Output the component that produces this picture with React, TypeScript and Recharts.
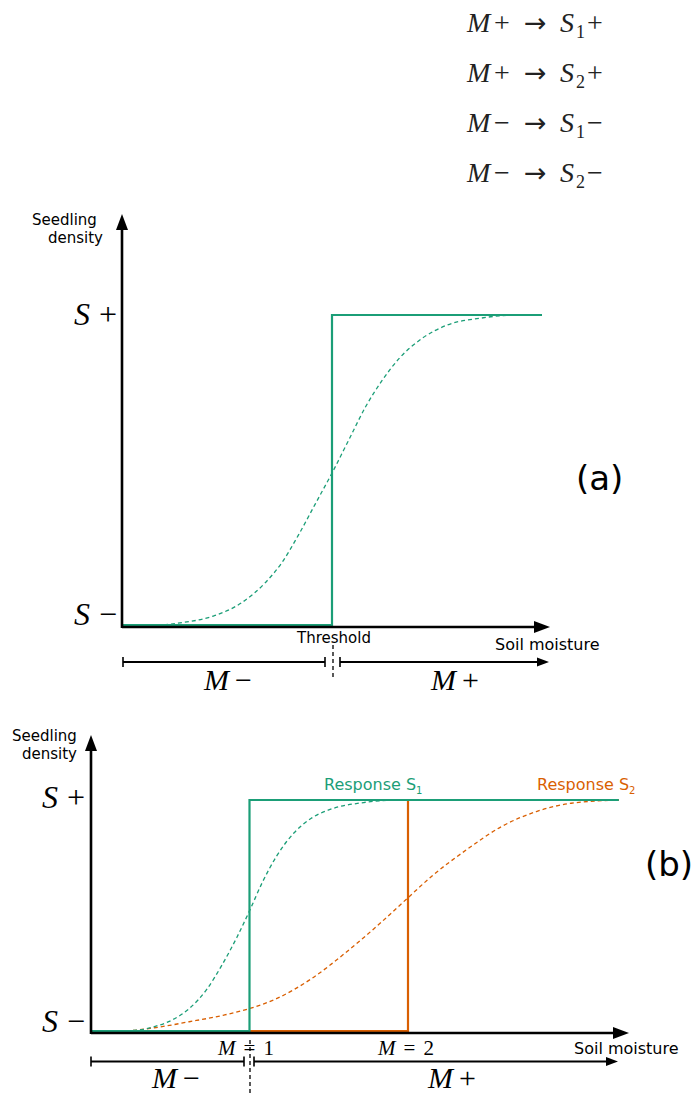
import React from 'react';
import { LineChart, Line, XAxis, YAxis, ReferenceLine, ReferenceDot } from 'recharts';

// ─── Colours / fonts ──────────────────────────────────────────────────────────

const W = 693;
const GREEN = '#1b9e77';
const ORANGE = '#d95f02';
const INK = '#000000';
const SANS = '"DejaVu Sans", Verdana, sans-serif';
const SERIF = '"Liberation Serif", "Times New Roman", serif';

// ─── Rules shown above the panels ─────────────────────────────────────────────

const RULE_M_SIGN = ['+', '+', '−', '−'];
const RULE_SPECIES = ['1', '2', '1', '2'];
const RULE_S_SIGN = ['+', '+', '−', '−'];

// ─── Panel (a): one threshold (M = soil moisture, S = seedling density) ───────

const A_STEP_M = [0, 1, 2];
const A_STEP_S = [0, 1, 1];
const A_CURVE_M = [0, 0.15, 0.29, 0.44, 0.57, 0.68, 0.76, 0.84, 0.92, 1.0, 1.08, 1.16, 1.24, 1.32, 1.43, 1.55, 1.71, 1.87, 2.0];
const A_CURVE_S = [0, 0, 0.008, 0.03, 0.072, 0.135, 0.2, 0.29, 0.39, 0.49, 0.597, 0.704, 0.79, 0.86, 0.925, 0.968, 0.99, 1.0, 1.0];

// ─── Panel (b): two species, two thresholds ───────────────────────────────────

const B_S1_STEP_M = [0, 1, 3.33];
const B_S1_STEP_S = [0, 1, 1];
const B_S2_STEP_M = [0, 2, 3.33];
const B_S2_STEP_S = [0, 1, 1];
const B_S1_CURVE_M = [0, 0.15, 0.3, 0.4, 0.51, 0.62, 0.73, 0.83, 0.92, 1.0, 1.08, 1.17, 1.28, 1.39, 1.5, 1.72, 1.93, 2.2, 3.33];
const B_S1_CURVE_S = [0, 0, 0.004, 0.019, 0.047, 0.097, 0.18, 0.29, 0.405, 0.52, 0.642, 0.756, 0.857, 0.921, 0.957, 0.989, 1.0, 1.0, 1.0];
const B_S2_CURVE_M = [0, 0.19, 0.4, 0.62, 0.84, 1.0, 1.17, 1.39, 1.61, 1.83, 2.0, 2.15, 2.37, 2.59, 2.81, 3.03, 3.33];
const B_S2_CURVE_S = [0, 0, 0.014, 0.04, 0.069, 0.097, 0.14, 0.226, 0.341, 0.47, 0.577, 0.67, 0.785, 0.885, 0.95, 0.986, 1.0];

const LEVEL_SIGNS = ['+', '−']; // S+ / S−
const B_TICKS = ['1', '2'];     // M = 1, M = 2

// ─── Geometry: how data units map onto the page ───────────────────────────────

type Geo = { top: number; height: number; x0: number; kx: number; y0: number; ky: number };
const GEO_A: Geo = { top: 200, height: 500, x0: 122, kx: 210, y0: 625, ky: 310 };
const GEO_B: Geo = { top: 700, height: 395, x0: 91, kx: 158.5, y0: 1031, ky: 231 };

const toData = (g: Geo, px: number, py: number) => ({ x: (px - g.x0) / g.kx, y: (g.y0 - py) / g.ky });
const zip = (m: number[], s: number[]) => m.map((v, i) => ({ m: v, s: s[i] }));

// ─── Shapes ───────────────────────────────────────────────────────────────────

function arrowShape(head: number, half: number, width: number, startTick = 0) {
  return (p: any) => {
    const { x1, y1, x2, y2 } = p;
    const len = Math.hypot(x2 - x1, y2 - y1) || 1;
    const ux = (x2 - x1) / len;
    const uy = (y2 - y1) / len;
    const bx = x2 - ux * head;
    const by = y2 - uy * head;
    return (
      <g>
        <line x1={x1} y1={y1} x2={bx + ux} y2={by + uy} stroke={INK} strokeWidth={width} />
        <polygon
          points={`${x2},${y2} ${bx - uy * half},${by + ux * half} ${bx + uy * half},${by - ux * half}`}
          fill={INK}
        />
        {startTick > 0 && (
          <line x1={x1 - uy * startTick} y1={y1 + ux * startTick} x2={x1 + uy * startTick} y2={y1 - ux * startTick} stroke={INK} strokeWidth={1.6} />
        )}
      </g>
    );
  };
}

function barShape(tick: number, width: number) {
  return (p: any) => {
    const { x1, y1, x2, y2 } = p;
    return (
      <g stroke={INK}>
        <line x1={x1} y1={y1} x2={x2} y2={y2} strokeWidth={width} />
        <line x1={x1} y1={y1 - tick} x2={x1} y2={y1 + tick} strokeWidth={1.6} />
        <line x1={x2} y1={y2 - tick} x2={x2} y2={y2 + tick} strokeWidth={1.6} />
      </g>
    );
  };
}

function seg(g: Geo, key: string, a: [number, number], b: [number, number], extra: any) {
  return <ReferenceLine key={key} segment={[toData(g, a[0], a[1]), toData(g, b[0], b[1])]} ifOverflow="visible" {...extra} />;
}

function note(g: Geo, key: string, px: number, py: number, content: React.ReactNode, style: any) {
  const p = toData(g, px, py);
  return (
    <ReferenceDot
      key={key}
      x={p.x}
      y={p.y}
      r={0}
      ifOverflow="visible"
      shape={(d: any) => (
        <text x={d.cx} y={d.cy} {...style}>
          {content}
        </text>
      )}
    />
  );
}

const mathLabel = (letter: string, sign: string, gap: number) => [
  <tspan key="l" fontStyle="italic">{letter}</tspan>,
  <tspan key="s" dx={gap}>{sign}</tspan>,
];

const sansStyle = (size: number, extra: any = {}) => ({ fontFamily: SANS, fontSize: size, fill: INK, ...extra });
const serifStyle = (size: number, extra: any = {}) => ({ fontFamily: SERIF, fontSize: size, fill: INK, ...extra });

// ─── Panel frame ──────────────────────────────────────────────────────────────

function Panel({ geo, children }: { geo: Geo; children: React.ReactNode }) {
  const xDomain = [-geo.x0 / geo.kx, (W - geo.x0) / geo.kx];
  const yDomain = [(geo.y0 - geo.top - geo.height) / geo.ky, (geo.y0 - geo.top) / geo.ky];
  return (
    <div style={{ position: 'absolute', left: 0, top: geo.top }}>
      <LineChart width={W} height={geo.height} margin={{ top: 0, right: 0, bottom: 0, left: 0 }}>
        <XAxis type="number" dataKey="m" domain={xDomain} hide allowDataOverflow />
        <YAxis type="number" domain={yDomain} hide allowDataOverflow />
        {children}
      </LineChart>
    </div>
  );
}

const dashed = (data: { m: number; s: number }[], color: string, key: string) => (
  <Line key={key} data={data} dataKey="s" type="monotone" stroke={color} strokeWidth={1.3} strokeDasharray="4 3" dot={false} activeDot={false} isAnimationActive={false} />
);
const step = (data: { m: number; s: number }[], color: string, key: string) => (
  <Line key={key} data={data} dataKey="s" type="stepAfter" stroke={color} strokeWidth={2.2} dot={false} activeDot={false} isAnimationActive={false} />
);

// ─── Main Component ───────────────────────────────────────────────────────────

export default function App() {
  const g = GEO_A;
  const h = GEO_B;
  return (
    <div style={{ position: 'absolute', left: 0, top: 0, width: W, height: 1095, background: '#fff', overflow: 'hidden' }}>
      <svg width={W} height={200} style={{ position: 'absolute', left: 0, top: 0 }}>
        {RULE_M_SIGN.map((ms, i) => (
          <text key={i} y={32 + 50 * i} fontFamily={SERIF} fontSize={28} fill="#222">
            <tspan x={467} fontStyle="italic">M</tspan>
            <tspan x={494}>{ms}</tspan>
            <tspan x={524} fontFamily={SANS} fontSize={27}>→</tspan>
            <tspan x={560} fontStyle="italic">S</tspan>
            <tspan x={576} dy={6} fontSize={18}>{RULE_SPECIES[i]}</tspan>
            <tspan x={587} dy={-6}>{RULE_S_SIGN[i]}</tspan>
          </text>
        ))}
      </svg>

      {/* (a) */}
      <Panel geo={g}>
        {dashed(zip(A_CURVE_M, A_CURVE_S), GREEN, 'ac')}
        {step(zip(A_STEP_M, A_STEP_S), GREEN, 'as')}
        {seg(g, 'ax', [122, 627], [550, 627], { shape: arrowShape(16, 6, 2.6) })}
        {seg(g, 'ay', [122, 628], [122, 214], { shape: arrowShape(16, 6, 2.6) })}
        {seg(g, 'r1', [123, 662], [325, 662], { shape: barShape(5, 2) })}
        {seg(g, 'r2', [340, 662], [549, 662], { shape: arrowShape(12, 4.5, 2, 5) })}
        {seg(g, 'sep', [333, 645], [333, 680], { stroke: INK, strokeWidth: 1.3, strokeDasharray: '4 3' })}
        {note(g, 't1', 32, 225, 'Seedling', sansStyle(15))}
        {note(g, 't2', 48, 243, 'density', sansStyle(15))}
        {LEVEL_SIGNS.map((sg, i) => note(g, `lv${i}`, 117, i === 0 ? 325 : 625, mathLabel('S', sg, 9), serifStyle(32, { textAnchor: 'end' })))}
        {note(g, 'pa', 576, 490, '(a)', sansStyle(34))}
        {note(g, 'th', 334, 643, 'Threshold', sansStyle(15, { textAnchor: 'middle' }))}
        {note(g, 'sm', 495, 650, 'Soil moisture', sansStyle(16))}
        {note(g, 'mm', 228, 690, mathLabel('M', '−', 6), serifStyle(30, { textAnchor: 'middle' }))}
        {note(g, 'mp', 455, 690, mathLabel('M', '+', 6), serifStyle(30, { textAnchor: 'middle' }))}
      </Panel>

      {/* (b) */}
      <Panel geo={h}>
        {dashed(zip(B_S2_CURVE_M, B_S2_CURVE_S), ORANGE, 'c2')}
        {dashed(zip(B_S1_CURVE_M, B_S1_CURVE_S), GREEN, 'c1')}
        {step(zip(B_S2_STEP_M, B_S2_STEP_S), ORANGE, 's2')}
        {step(zip(B_S1_STEP_M, B_S1_STEP_S), GREEN, 's1')}
        {seg(h, 'ax', [91, 1033], [629, 1033], { shape: arrowShape(16, 6, 2.6) })}
        {seg(h, 'ay', [91, 1034], [91, 735], { shape: arrowShape(16, 6, 2.6) })}
        {seg(h, 'r1', [91, 1061.5], [244, 1061.5], { shape: barShape(5, 2) })}
        {seg(h, 'r2', [254, 1061.5], [618, 1061.5], { shape: arrowShape(12, 4.5, 2, 5) })}
        {seg(h, 'sep', [250, 1040], [250, 1095], { stroke: INK, strokeWidth: 1.3, strokeDasharray: '4 3' })}
        {note(h, 't1', 12, 741, 'Seedling', sansStyle(15))}
        {note(h, 't2', 22, 759, 'density', sansStyle(15))}
        {LEVEL_SIGNS.map((sg, i) => note(h, `lv${i}`, 85, i === 0 ? 808 : 1032, mathLabel('S', sg, 9), serifStyle(32, { textAnchor: 'end' })))}
        {note(h, 'r1t', 324, 790, [<tspan key="a">Response S</tspan>, <tspan key="b" dy={4} fontSize={10}>1</tspan>], sansStyle(16, { fill: GREEN }))}
        {note(h, 'r2t', 537, 790, [<tspan key="a">Response S</tspan>, <tspan key="b" dy={4} fontSize={10}>2</tspan>], sansStyle(16, { fill: ORANGE }))}
        {note(h, 'pb', 645, 876, '(b)', sansStyle(34))}
        {B_TICKS.map((t, i) =>
          note(h, `mt${i}`, i === 0 ? 246 : 406, 1055, [
            <tspan key="a" fontStyle="italic">M</tspan>,
            <tspan key="b" dx={8}>=</tspan>,
            <tspan key="c" dx={8}>{t}</tspan>,
          ], serifStyle(21, { textAnchor: 'middle' })),
        )}
        {note(h, 'sm', 574, 1054, 'Soil moisture', sansStyle(16))}
        {note(h, 'mm', 176, 1088, mathLabel('M', '−', 6), serifStyle(30, { textAnchor: 'middle' }))}
        {note(h, 'mp', 452, 1088, mathLabel('M', '+', 6), serifStyle(30, { textAnchor: 'middle' }))}
      </Panel>
    </div>
  );
}
